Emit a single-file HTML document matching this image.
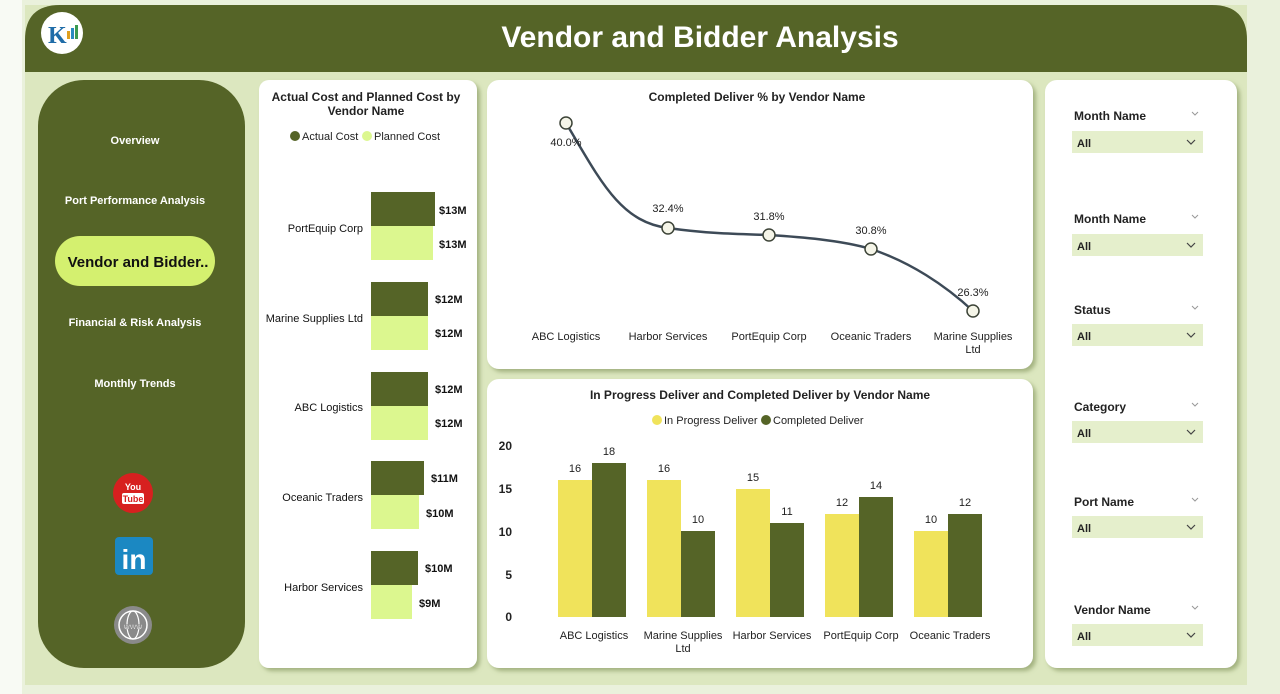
<!DOCTYPE html>
<html><head><meta charset="utf-8"><style>
html,body{margin:0;padding:0;background:#f4f7ec;}
svg{display:block;font-family:"Liberation Sans",sans-serif;}
</style></head><body>
<svg width="1280" height="694" viewBox="0 0 1280 694" xmlns="http://www.w3.org/2000/svg">
<defs><filter id="sh" x="-10%" y="-10%" width="130%" height="130%"><feDropShadow dx="3" dy="3" stdDeviation="2" flood-color="#7d8f55" flood-opacity="0.6"/></filter></defs>
<rect x="0" y="0" width="1280" height="694" fill="#eaf1dc"/>
<rect x="0" y="0" width="22" height="694" fill="#f8faf4"/>
<rect x="25" y="5" width="1222" height="680" fill="#dce7bf"/>
<path d="M25,72 V40 Q25,5 60,5 H1212 Q1247,5 1247,40 V72 Z" fill="#556427"/>
<circle cx="62" cy="33" r="21" fill="#fff"/>
<text x="48" y="43" font-size="24" font-weight="bold" fill="#1f6ca8" font-family="Liberation Serif,serif">K</text>
<rect x="67" y="31" width="3" height="8" fill="#e0a020"/><rect x="71" y="28" width="3" height="11" fill="#2a8ac0"/><rect x="75" y="25" width="3" height="14" fill="#3a9a50"/>
<text x="700" y="47" font-size="30" font-weight="bold" fill="#fff" text-anchor="middle">Vendor and Bidder Analysis</text>

<rect x="38" y="80" width="207" height="588" rx="46" fill="#556427"/>
<g font-size="11" font-weight="bold" fill="#fff" text-anchor="middle">
<text x="135" y="144">Overview</text>
<text x="135" y="204">Port Performance Analysis</text>
<text x="135" y="326">Financial &amp; Risk Analysis</text>
<text x="135" y="387">Monthly Trends</text>
</g>
<rect x="55" y="236" width="160" height="50" rx="25" fill="#d4f06f"/>
<text x="138" y="267" font-size="15" font-weight="bold" fill="#111" text-anchor="middle">Vendor and Bidder..</text>
<circle cx="133" cy="493" r="20" fill="#d7201f"/>
<text x="133" y="490" font-size="9" font-weight="bold" fill="#fff" text-anchor="middle">You</text>
<rect x="122" y="493" width="22" height="11" rx="2" fill="#fff"/>
<text x="133" y="502" font-size="9" font-weight="bold" fill="#d7201f" text-anchor="middle">Tube</text>
<rect x="115" y="537" width="38" height="38" rx="4" fill="#1b88c2"/>
<text x="134" y="569" font-size="28" font-weight="bold" fill="#fff" text-anchor="middle">in</text>
<circle cx="133" cy="625" r="19" fill="#8a8a8a"/>
<circle cx="133" cy="625" r="14" fill="none" stroke="#fff" stroke-width="1.5"/>
<ellipse cx="133" cy="625" rx="6" ry="14" fill="none" stroke="#fff" stroke-width="1.2"/>
<text x="133" y="629" font-size="8" font-weight="bold" fill="#fff" text-anchor="middle" stroke="#8a8a8a" stroke-width="0.5">www</text>

<g filter="url(#sh)">
<rect x="259" y="80" width="218" height="588" rx="10" fill="#fff"/>
<rect x="487" y="80" width="546" height="289" rx="12" fill="#fff"/>
<rect x="487" y="379" width="546" height="289" rx="12" fill="#fff"/>
<rect x="1045" y="80" width="192" height="588" rx="12" fill="#fff"/>
</g>

<g font-size="12" font-weight="bold" fill="#222" text-anchor="middle">
<text x="366" y="101">Actual Cost and Planned Cost by</text>
<text x="366" y="115">Vendor Name</text>
</g>
<circle cx="295" cy="136" r="5" fill="#556427"/><text x="302" y="140" font-size="11" fill="#222">Actual Cost</text>
<circle cx="367" cy="136" r="5" fill="#dcf78f"/><text x="374" y="140" font-size="11" fill="#222">Planned Cost</text>
<g font-size="11" fill="#111" text-anchor="end">
<text x="363" y="232">PortEquip Corp</text>
<text x="363" y="322">Marine Supplies Ltd</text>
<text x="363" y="411">ABC Logistics</text>
<text x="363" y="501">Oceanic Traders</text>
<text x="363" y="591">Harbor Services</text>
</g>
<g fill="#556427">
<rect x="371" y="192" width="64" height="34"/><rect x="371" y="282" width="57" height="34"/><rect x="371" y="372" width="57" height="34"/><rect x="371" y="461" width="53" height="34"/><rect x="371" y="551" width="47" height="34"/>
</g>
<g fill="#dcf78f">
<rect x="371" y="226" width="62" height="34"/><rect x="371" y="316" width="57" height="34"/><rect x="371" y="406" width="57" height="34"/><rect x="371" y="495" width="48" height="34"/><rect x="371" y="585" width="41" height="34"/>
</g>
<g font-size="11" font-weight="bold" fill="#111">
<text x="439" y="214">$13M</text><text x="439" y="248">$13M</text>
<text x="435" y="303">$12M</text><text x="435" y="337">$12M</text>
<text x="435" y="393">$12M</text><text x="435" y="427">$12M</text>
<text x="431" y="482">$11M</text><text x="426" y="517">$10M</text>
<text x="425" y="572">$10M</text><text x="419" y="607">$9M</text>
</g>

<text x="757" y="101" font-size="12" font-weight="bold" fill="#222" text-anchor="middle">Completed Deliver % by Vendor Name</text>
<path d="M566,123 C600,180 620,222 668,228 C710,234 740,234 769,235 C800,237 840,240 871,249 C910,262 945,285 973,311" fill="none" stroke="#3d4a57" stroke-width="2.5"/>
<g fill="#f5f5e8" stroke="#3d4438" stroke-width="1.5">
<circle cx="566" cy="123" r="6"/><circle cx="668" cy="228" r="6"/><circle cx="769" cy="235" r="6"/><circle cx="871" cy="249" r="6"/><circle cx="973" cy="311" r="6"/>
</g>
<g font-size="11" fill="#222" text-anchor="middle">
<text x="566" y="146">40.0%</text><text x="668" y="212">32.4%</text><text x="769" y="220">31.8%</text><text x="871" y="234">30.8%</text><text x="973" y="296">26.3%</text>
</g>
<g font-size="11" fill="#222" text-anchor="middle">
<text x="566" y="340">ABC Logistics</text><text x="668" y="340">Harbor Services</text><text x="769" y="340">PortEquip Corp</text><text x="871" y="340">Oceanic Traders</text><text x="973" y="340">Marine Supplies</text><text x="973" y="353">Ltd</text>
</g>

<text x="760" y="399" font-size="12" font-weight="bold" fill="#222" text-anchor="middle">In Progress Deliver and Completed Deliver by Vendor Name</text>
<circle cx="657" cy="420" r="5" fill="#f0e35b"/><text x="664" y="424" font-size="11" fill="#222">In Progress Deliver</text>
<circle cx="766" cy="420" r="5" fill="#556427"/><text x="773" y="424" font-size="11" fill="#222">Completed Deliver</text>
<g font-size="12" font-weight="bold" fill="#222" text-anchor="end">
<text x="512" y="450">20</text><text x="512" y="493">15</text><text x="512" y="536">10</text><text x="512" y="579">5</text><text x="512" y="621">0</text>
</g>
<g fill="#f0e35b">
<rect x="558" y="480" width="34" height="137"/><rect x="647" y="480" width="34" height="137"/><rect x="736" y="489" width="34" height="128"/><rect x="825" y="514" width="34" height="103"/><rect x="914" y="531" width="34" height="86"/>
</g>
<g fill="#556427">
<rect x="592" y="463" width="34" height="154"/><rect x="681" y="531" width="34" height="86"/><rect x="770" y="523" width="34" height="94"/><rect x="859" y="497" width="34" height="120"/><rect x="948" y="514" width="34" height="103"/>
</g>
<g font-size="11" fill="#222" text-anchor="middle">
<text x="575" y="472">16</text><text x="609" y="455">18</text>
<text x="664" y="472">16</text><text x="698" y="523">10</text>
<text x="753" y="481">15</text><text x="787" y="515">11</text>
<text x="842" y="506">12</text><text x="876" y="489">14</text>
<text x="931" y="523">10</text><text x="965" y="506">12</text>
</g>
<g font-size="11" fill="#222" text-anchor="middle">
<text x="594" y="639">ABC Logistics</text><text x="683" y="639">Marine Supplies</text><text x="683" y="652">Ltd</text><text x="772" y="639">Harbor Services</text><text x="861" y="639">PortEquip Corp</text><text x="950" y="639">Oceanic Traders</text>
</g>

<g font-size="12" font-weight="bold" fill="#222">
<text x="1074" y="120">Month Name</text>
<text x="1074" y="223">Month Name</text>
<text x="1074" y="314">Status</text>
<text x="1074" y="411">Category</text>
<text x="1074" y="506">Port Name</text>
<text x="1074" y="614">Vendor Name</text>
</g>
<g fill="#e5efcc">
<rect x="1072" y="131" width="131" height="22"/><rect x="1072" y="234" width="131" height="22"/><rect x="1072" y="324" width="131" height="22"/><rect x="1072" y="421" width="131" height="22"/><rect x="1072" y="516" width="131" height="22"/><rect x="1072" y="624" width="131" height="22"/>
</g>
<g font-size="11" font-weight="bold" fill="#222">
<text x="1077" y="147">All</text><text x="1077" y="250">All</text><text x="1077" y="340">All</text><text x="1077" y="437">All</text><text x="1077" y="532">All</text><text x="1077" y="640">All</text>
</g>
<g fill="none" stroke="#444" stroke-width="1.2">
<path d="M1187,140 l4,4 l4,-4"/><path d="M1187,243 l4,4 l4,-4"/><path d="M1187,333 l4,4 l4,-4"/><path d="M1187,430 l4,4 l4,-4"/><path d="M1187,525 l4,4 l4,-4"/><path d="M1187,633 l4,4 l4,-4"/>
</g>
<g fill="none" stroke="#999" stroke-width="1">
<path d="M1192,112 l3,3 l3,-3"/><path d="M1192,215 l3,3 l3,-3"/><path d="M1192,306 l3,3 l3,-3"/><path d="M1192,403 l3,3 l3,-3"/><path d="M1192,498 l3,3 l3,-3"/><path d="M1192,606 l3,3 l3,-3"/>
</g>
</svg>
</body></html>
